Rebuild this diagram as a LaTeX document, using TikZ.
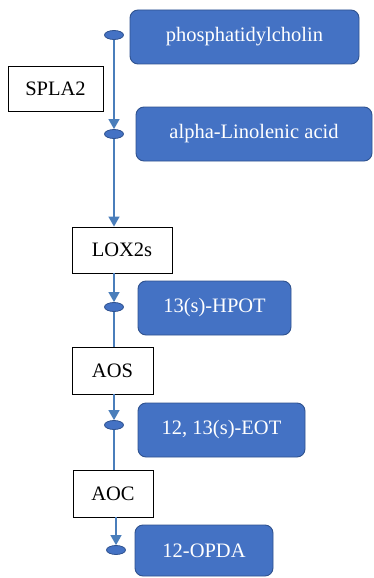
\documentclass[tikz,border=0pt]{standalone}
\usepackage{fontspec}
\setmainfont{Liberation Serif}
\usetikzlibrary{arrows.meta,shapes.geometric}
\definecolor{boxblue}{HTML}{4472C4}
\definecolor{boxedge}{HTML}{2F528F}
\definecolor{linkblue}{HTML}{4A7EBB}
\begin{document}
\begin{tikzpicture}[x=1pt,y=-1pt,
  metab/.style={draw=boxedge,line width=0.9pt,fill=boxblue,rounded corners=8pt,inner sep=0pt,
    text=white,font=\fontsize{20.5}{24}\selectfont},
  enzyme/.style={draw=black,line width=0.9pt,fill=white,inner sep=0pt,
    text=black,font=\fontsize{20.5}{24}\selectfont,minimum height=46pt},
  dot/.style={ellipse,draw=boxedge,line width=0.8pt,fill=boxblue,minimum width=19pt,minimum height=9pt,inner sep=0pt},
  link/.style={draw=linkblue,line width=1.4pt},
  arr/.style={link,-{Triangle[width=11pt,length=10pt]}}]
\fill[white] (0,0) rectangle (373,578);
\useasboundingbox (0,0) rectangle (373,578);

\node[metab,minimum width=229pt,minimum height=54pt] (m1) at (244.5,37) {phosphatidylcholin};
\node[metab,minimum width=236pt,minimum height=54pt] (m2) at (254,134) {alpha-Linolenic acid};
\node[metab,minimum width=153pt,minimum height=54pt] (m3) at (214.5,308) {13(s)-HPOT};
\node[metab,minimum width=167pt,minimum height=54pt] (m4) at (221.5,430) {12, 13(s)-EOT};
\node[metab,minimum width=138pt,minimum height=51pt] (m5) at (204,550.5) {12-OPDA};

\node[enzyme,minimum width=95pt,minimum height=45pt] (spla) at (55.5,88.5) {SPLA2};
\node[enzyme,minimum width=100pt] (lox) at (122,250) {LOX2s};
\node[enzyme,minimum width=81pt,minimum height=47pt] (aos) at (112.5,370.5) {AOS};
\node[enzyme,minimum width=80pt,minimum height=47pt] (aoc) at (113,493.5) {AOC};

\node[dot] (e1) at (114,35) {};
\node[dot] (e2) at (114,134) {};
\node[dot] (e3) at (114,307) {};
\node[dot] (e4) at (114,425) {};
\node[dot] (e5) at (116,550) {};

\draw[arr] (e1.south) -- (e2.north);
\draw[arr] (e2.south) -- (e2.south |- lox.north);
\draw[arr] (e3.north |- lox.south) -- (e3.north);
\draw[link] (e3.south) -- (e3.south |- aos.north);
\draw[arr] (e4.north |- aos.south) -- (e4.north);
\draw[link] (e4.south) -- (e4.south |- aoc.north);
\draw[arr] (e5.north |- aoc.south) -- (e5.north);
\end{tikzpicture}
\end{document}
